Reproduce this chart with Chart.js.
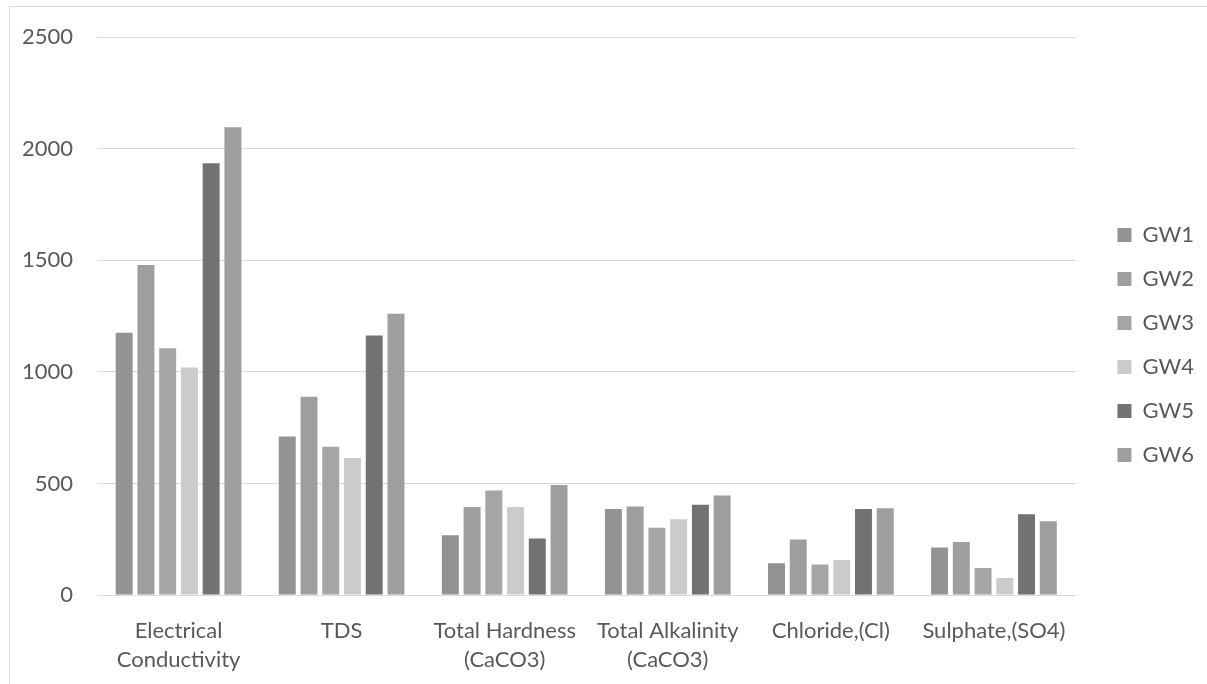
<!DOCTYPE html>
<html>
<head>
<meta charset="utf-8">
<script src="https://cdn.jsdelivr.net/npm/chart.js@4/dist/chart.umd.min.js"></script>
<style>
  html, body { margin: 0; padding: 0; background: #fff; overflow: hidden; }
  #frame {
    position: absolute; left: 9px; top: 6px; width: 1400px; height: 900px;
    border: 1px solid #d9d9d9;
  }
  #wrap { position: absolute; left: 0; top: 0; width: 1204px; height: 684px; }
</style>
</head>
<body>
<div id="frame"></div>
<div id="wrap"><canvas id="chart"></canvas></div>
<script>
const categories = [
  ['Electrical', 'Conductivity'],
  'TDS',
  ['Total Hardness', '(CaCO3)'],
  ['Total Alkalinity', '(CaCO3)'],
  'Chloride,(Cl)',
  'Sulphate,(SO4)',
];

const gw1 = [1175, 710, 268, 385, 142, 213];
const gw2 = [1479, 889, 394, 397, 249, 237];
const gw3 = [1106, 665, 468, 301, 137, 121];
const gw4 = [1020, 614, 394, 339, 157, 76];
const gw5 = [1935, 1163, 253, 404, 385, 362];
const gw6 = [2096, 1260, 493, 446, 389, 330];

const seriesNames = ['GW1', 'GW2', 'GW3', 'GW4', 'GW5', 'GW6'];
const seriesColors = ['#939393', '#9e9e9e', '#a5a5a5', '#cbcbcb', '#727272', '#9e9e9e'];
const yTicks = [0, 500, 1000, 1500, 2000, 2500];

const textColor = '#595959';
const font = { family: 'Lato', size: 22 };

const datasets = [gw1, gw2, gw3, gw4, gw5, gw6].map((values, i) => {
  return {
    label: seriesNames[i],
    data: values,
    backgroundColor: seriesColors[i],
    borderWidth: 0,
    categoryPercentage: 0.8,
    barPercentage: 0.78,
  };
});

new Chart(document.getElementById('chart'), {
  type: 'bar',
  data: { labels: categories, datasets },
  options: {
    responsive: true,
    maintainAspectRatio: false,
    animation: false,
    layout: { padding: { top: 36, left: 0, right: 0, bottom: 0 } },
    plugins: {
      tooltip: { enabled: false },
      legend: {
        position: 'right',
        align: 'start',
        // blank title, only pushes the legend items down
        title: { display: true, text: ' ', font: { size: 10, lineHeight: 1 }, padding: { top: 156, bottom: 0 } },
        labels: {
          color: textColor,
          font,
          boxWidth: 14,
          boxHeight: 14,
          padding: 22,
        },
      },
    },
    scales: {
      x: {
        grid: { display: false },
        border: { display: true, color: '#d9d9d9' },
        ticks: { color: textColor, font: { ...font, lineHeight: 1.3 }, padding: 14, maxRotation: 0, autoSkip: false },
        afterFit: (s) => { s.height = 89; },
      },
      y: {
        min: 0,
        max: 2500,
        afterBuildTicks: (s) => { s.ticks = yTicks.map((v) => ({ value: v })); },
        grid: { color: '#d9d9d9', drawTicks: false },
        border: { display: false },
        ticks: { color: textColor, font, padding: 24, callback: (v) => String(v) },
        afterFit: (s) => { s.width = 97; },
      },
      // empty right axis, only keeps a gap between the plot and the legend
      gap: {
        position: 'right',
        display: true,
        grid: { display: false },
        border: { display: false },
        ticks: { display: false },
        afterFit: (s) => { s.width = 20; },
      },
    },
  },
});
</script>
</body>
</html>
